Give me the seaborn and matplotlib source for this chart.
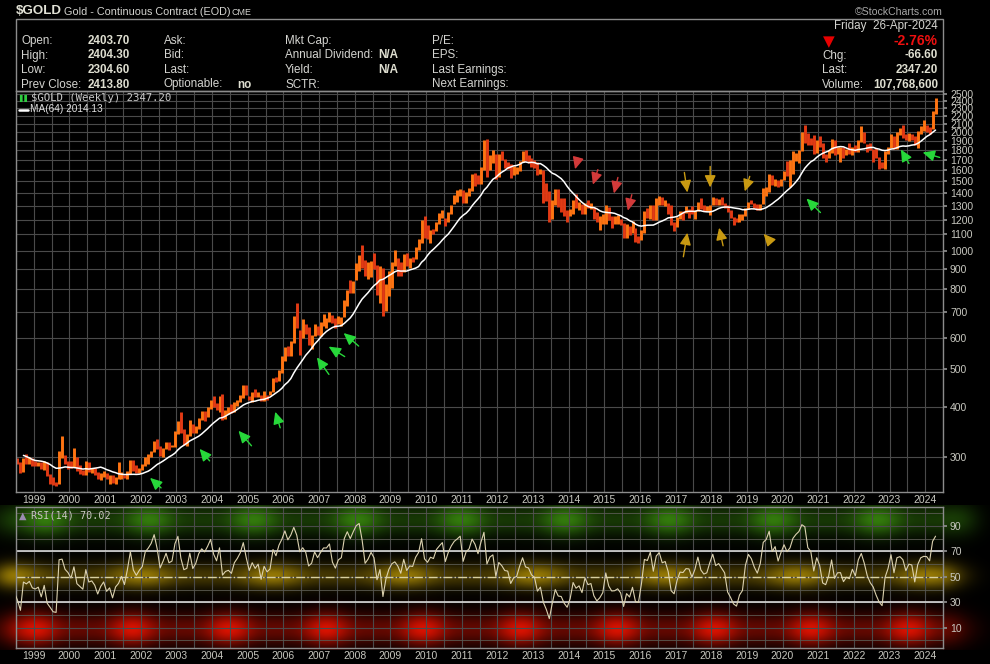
import numpy as np
import pandas as pd
import matplotlib
matplotlib.use("Agg")
import matplotlib.pyplot as plt
from matplotlib.lines import Line2D
from matplotlib.patches import Rectangle
from matplotlib.ticker import FixedLocator, NullFormatter, NullLocator
import seaborn as sns

W, H = 990, 664

# monthly gold bars (first month = Jul 1997)
START = 1997.5
close_px = [
    326, 325, 332, 311, 296, 290,
    303, 297, 301, 309, 293, 296, 288, 273, 294, 292, 294, 288,
    287, 288, 280, 286, 268, 262, 255, 254, 299, 300, 291, 288,
    283, 294, 278, 275, 272, 289, 277, 278, 274, 265, 270, 273,
    265, 267, 258, 264, 266, 270, 265, 274, 291, 279, 275, 279,
    282, 297, 302, 309, 327, 319, 305, 313, 324, 317, 319, 347,
    368, 348, 335, 337, 364, 346, 355, 375, 387, 384, 397, 417,
    403, 396, 425, 387, 394, 396, 392, 409, 417, 428, 454, 438,
    422, 436, 429, 436, 417, 437, 430, 434, 473, 466, 495, 519,
    569, 557, 585, 657, 644, 614, 633, 625, 599, 607, 645, 635,
    652, 669, 669, 683, 659, 650, 668, 673, 743, 794, 783, 838,
    924, 973, 934, 864, 888, 930, 914, 833, 880, 718, 815, 884,
    928, 943, 924, 891, 979, 927, 955, 953, 1007, 1040, 1181, 1096,
    1080, 1118, 1113, 1181, 1214, 1245, 1181, 1248, 1307, 1357, 1386, 1421,
    1333, 1411, 1439, 1556, 1536, 1500, 1628, 1825, 1620, 1715, 1746, 1566,
    1740, 1711, 1669, 1664, 1560, 1604, 1614, 1692, 1772, 1719, 1713, 1676,
    1663, 1578, 1596, 1476, 1393, 1234, 1313, 1396, 1328, 1323, 1250, 1202,
    1240, 1326, 1284, 1296, 1250, 1322, 1282, 1287, 1210, 1171, 1182, 1199,
    1278, 1212, 1183, 1184, 1190, 1172, 1095, 1132, 1114, 1142, 1065, 1060,
    1116, 1238, 1234, 1290, 1215, 1322, 1351, 1309, 1317, 1277, 1173, 1152,
    1211, 1253, 1251, 1269, 1268, 1242, 1269, 1322, 1284, 1271, 1275, 1309,
    1345, 1318, 1325, 1315, 1305, 1253, 1233, 1206, 1196, 1215, 1223, 1283,
    1325, 1316, 1298, 1285, 1311, 1414, 1437, 1529, 1472, 1511, 1464, 1523,
    1589, 1566, 1596, 1694, 1751, 1800, 1986, 1978, 1895, 1879, 1781, 1895,
    1850, 1729, 1715, 1769, 1903, 1771, 1817, 1818, 1757, 1784, 1776, 1829,
    1797, 1900, 1954, 1911, 1848, 1807, 1781, 1726, 1672, 1640, 1768, 1826,
    1945, 1836, 1986, 1999, 1982, 1919, 1970, 1966, 1870, 1995, 2058, 2072,
    2071, 2054, 2254, 2347,
]
high_px = [
    334, 331, 341, 334, 313, 300,
    307, 304, 304, 315, 310, 300, 297, 290, 297, 305, 300, 298,
    292, 291, 291, 292, 290, 271, 266, 258, 310, 338, 303, 292,
    292, 316, 300, 286, 278, 293, 291, 280, 280, 275, 272, 276,
    272, 269, 269, 266, 290, 275, 270, 276, 295, 294, 285, 280,
    288, 300, 305, 311, 328, 332, 320, 316, 327, 326, 322, 349,
    370, 389, 353, 342, 372, 364, 358, 376, 391, 392, 402, 418,
    427, 410, 428, 432, 395, 400, 407, 414, 419, 429, 457, 456,
    428, 437, 446, 437, 429, 441, 431, 440, 475, 478, 498, 541,
    571, 573, 590, 684, 735, 630, 671, 650, 640, 612, 650, 645,
    660, 690, 674, 697, 685, 675, 682, 678, 752, 797, 842, 840,
    932, 978, 1033, 948, 935, 941, 988, 920, 913, 906, 825, 888,
    938, 1007, 960, 935, 982, 989, 958, 962, 1023, 1070, 1196, 1227,
    1162, 1127, 1135, 1183, 1249, 1266, 1208, 1252, 1309, 1388, 1424, 1432,
    1424, 1413, 1447, 1569, 1577, 1560, 1630, 1911, 1923, 1750, 1803, 1763,
    1761, 1792, 1715, 1677, 1665, 1642, 1628, 1693, 1790, 1798, 1755, 1723,
    1697, 1683, 1617, 1605, 1487, 1417, 1347, 1433, 1434, 1361, 1361, 1267,
    1280, 1345, 1392, 1331, 1315, 1326, 1345, 1325, 1288, 1255, 1225, 1238,
    1307, 1290, 1223, 1224, 1232, 1205, 1175, 1170, 1157, 1191, 1145, 1088,
    1129, 1263, 1287, 1306, 1305, 1362, 1377, 1367, 1345, 1320, 1306, 1182,
    1220, 1264, 1261, 1297, 1278, 1297, 1272, 1331, 1362, 1306, 1299, 1310,
    1366, 1362, 1356, 1369, 1326, 1309, 1266, 1218, 1214, 1243, 1238, 1285,
    1331, 1349, 1325, 1311, 1314, 1443, 1452, 1565, 1557, 1519, 1515, 1525,
    1592, 1691, 1704, 1788, 1775, 1807, 2005, 2089, 1992, 1933, 1966, 1906,
    1959, 1877, 1756, 1800, 1919, 1916, 1837, 1834, 1837, 1814, 1878, 1834,
    1854, 1915, 2078, 2003, 1871, 1879, 1812, 1822, 1735, 1683, 1790, 1836,
    1975, 1952, 2005, 2049, 2085, 1985, 1987, 1974, 1953, 2017, 2075, 2152,
    2088, 2065, 2260, 2448,
]
low_px = [
    317, 318, 321, 307, 292, 283,
    283, 293, 292, 298, 292, 286, 287, 272, 274, 288, 288, 284,
    284, 284, 279, 277, 268, 256, 254, 252, 255, 297, 288, 279,
    281, 282, 276, 271, 270, 270, 275, 272, 269, 264, 262, 266,
    263, 255, 257, 256, 264, 263, 265, 264, 271, 276, 272, 272,
    277, 284, 288, 300, 309, 314, 302, 300, 313, 312, 317, 318,
    343, 344, 322, 320, 338, 344, 344, 352, 371, 370, 379, 396,
    400, 395, 390, 371, 375, 384, 388, 390, 403, 413, 422, 431,
    418, 414, 426, 424, 415, 415, 419, 430, 438, 463, 468, 490,
    525, 542, 540, 584, 637, 543, 602, 615, 575, 564, 607, 612,
    608, 643, 638, 660, 655, 638, 650, 645, 678, 724, 782, 781,
    845, 887, 906, 865, 850, 857, 901, 772, 736, 682, 702, 767,
    803, 914, 865, 865, 881, 913, 905, 937, 953, 1003, 1047, 1075,
    1072, 1045, 1100, 1123, 1166, 1212, 1157, 1182, 1243, 1315, 1331, 1374,
    1319, 1325, 1381, 1420, 1462, 1478, 1480, 1603, 1535, 1603, 1668, 1523,
    1540, 1704, 1627, 1613, 1527, 1555, 1568, 1597, 1684, 1692, 1674, 1636,
    1626, 1555, 1565, 1321, 1338, 1180, 1207, 1304, 1292, 1251, 1227, 1181,
    1225, 1240, 1284, 1268, 1240, 1240, 1282, 1273, 1204, 1183, 1131, 1170,
    1167, 1197, 1143, 1170, 1170, 1162, 1077, 1080, 1098, 1110, 1052, 1046,
    1062, 1111, 1208, 1205, 1200, 1200, 1310, 1304, 1302, 1241, 1161, 1123,
    1146, 1207, 1195, 1244, 1214, 1237, 1204, 1262, 1276, 1261, 1264, 1236,
    1303, 1308, 1306, 1306, 1286, 1251, 1211, 1160, 1180, 1182, 1196, 1222,
    1279, 1311, 1285, 1267, 1270, 1314, 1381, 1410, 1468, 1460, 1451, 1459,
    1515, 1548, 1451, 1567, 1686, 1671, 1797, 1883, 1851, 1860, 1765, 1773,
    1829, 1717, 1677, 1723, 1766, 1750, 1765, 1677, 1721, 1746, 1759, 1753,
    1780, 1784, 1893, 1877, 1786, 1805, 1678, 1720, 1617, 1618, 1616, 1765,
    1824, 1809, 1810, 1973, 1937, 1911, 1903, 1913, 1859, 1823, 1981, 2011,
    2001, 1985, 2039, 2228,
]

# annotation arrows: tip (year, price) and tail offset in pixels
green_arrows = [
    (2002.26, 265, 11, -10), (2003.65, 314, 10, -12), (2004.74, 349, 13, -15),
    (2005.77, 390, 5, -16), (2006.94, 536, 12, -17), (2007.27, 571, 16, -10),
    (2007.69, 618, 15, -13), (2020.67, 1357, 14, -14), (2023.32, 1808, 8, -14),
    (2023.93, 1777, 17, -5),
]
red_arrows = [
    (2014.18, 1611, 3, 11), (2014.68, 1472, 5, 15),
    (2015.27, 1398, 4, 16), (2015.66, 1264, 4, 16),
]
gold_arrows = [
    (2017.33, 1406, -3, 20), (2017.97, 1448, 0, 21), (2018.94, 1415, 5, 15),
    (2017.33, 1111, -4, -24), (2018.22, 1144, 4, -18), (2019.47, 1104, 7, -8),
]

price_ticks = list(range(300, 2600, 100))
rsi_ticks = [10, 30, 50, 70, 90]
years = list(range(1999, 2025))

assert len(close_px) == len(high_px) == len(low_px)

df = pd.DataFrame({"close": close_px, "high": high_px, "low": low_px})
df["year"] = START + (np.arange(len(df)) + 0.5) / 12
# 64 weeks ~ 15 months
df["ma"] = df["close"].rolling(15).mean()
delta = df["close"].diff()
gain = delta.clip(lower=0).ewm(alpha=1 / 7, adjust=False).mean()
loss = (-delta.clip(upper=0)).ewm(alpha=1 / 7, adjust=False).mean()
df["rsi"] = 100 - 100 / (1 + gain / loss)

sns.set_theme(style="dark")
plt.rcParams["font.family"] = ["Liberation Sans", "DejaVu Sans"]
plt.rcParams["axes.facecolor"] = "black"
plt.rcParams["figure.facecolor"] = "black"

TXT = "#d4d4d0"
VAL = "#deded0"
GRID = "#4a4a4a"
EDGE = "#8c8c8c"
HFS = 8.4
XMIN, XMAX = 1998.61, 2024.45


def fpos(x, y):
    return x / W, 1 - y / H


fig = plt.figure(figsize=(W / 100, H / 100), dpi=100)

# glowing RSI background
bg = fig.add_axes([0, 1 - 650 / H, 1, 145 / H])
bg.set_axis_off()
cols = np.arange(W)
vals = np.linspace(106, -7, 145)
X, V = np.meshgrid(cols, vals)
dist = np.maximum(np.maximum(16 - X, X - 943), 0)
fade = np.exp(-(dist / 26.0) ** 2)


def band(center, sigma, period, phase):
    prof = np.exp(-((V - center) / sigma) ** 2)
    mod = 0.45 + 0.55 * (0.5 + 0.5 * np.cos(2 * np.pi * (X - phase) / period)) ** 2
    return prof * mod


img = np.zeros((len(vals), W, 3))
for color, args in [
    ((0.20, 0.48, 0.05), (95, 13, 104, 45)),
    ((0.58, 0.47, 0.02), (51, 10, 131, 10)),
    ((0.85, 0.07, 0.0), (9, 13, 97, 35)),
]:
    img += np.array(color) * band(*args)[..., None]
img *= fade[..., None]
bg.imshow(np.clip(img, 0, 1), extent=(0, 1, 0, 1), aspect="auto",
          interpolation="bilinear")

ax = fig.add_axes([16 / W, 1 - 492 / H, 927 / W, 401 / H])
rsi_ax = fig.add_axes([16 / W, 1 - 648 / H, 927 / W, 141 / H])
rsi_ax.set_facecolor("none")

# price bars
up = df["close"].diff().fillna(0) >= 0
bar_colors = np.where(up, "#ff7412", "#e23a14")
ax.vlines(df["year"], df["low"], df["high"], colors=bar_colors,
          linewidth=2.1, zorder=2)
sns.lineplot(data=df.dropna(subset=["ma"]), x="year", y="ma", ax=ax,
             color="white", linewidth=1.1, zorder=3)

for arrows, color in [(green_arrows, "#27d83a"), (red_arrows, "#d23a3a"),
                      (gold_arrows, "#c99a12")]:
    for yr, price, dx, dy in arrows:
        ax.annotate("", xy=(yr, price), xytext=(dx, dy),
                    textcoords="offset pixels",
                    arrowprops=dict(arrowstyle="-|>,head_length=0.6,head_width=0.28",
                                    color=color, lw=1.0, shrinkA=0, shrinkB=0),
                    zorder=4)

ax.set_yscale("log")
ax.set_xlim(XMIN, XMAX)
ax.set_ylim(244, 2545)
ax.yaxis.tick_right()
ax.yaxis.set_major_locator(FixedLocator(price_ticks))
ax.set_yticklabels([str(v) for v in price_ticks])
ax.yaxis.set_minor_locator(NullLocator())
ax.yaxis.set_minor_formatter(NullFormatter())
ax.set_xticks(years)
ax.set_xticklabels([str(y) for y in years])
ax.set_xticks([y + 0.5 for y in range(1998, 2025)], minor=True)
ax.set_xlabel("")
ax.set_ylabel("")

# RSI panel
sns.lineplot(data=df, x="year", y="rsi", ax=rsi_ax, color="#dcd2b0",
             linewidth=0.8, zorder=3)
rsi_ax.axhline(70, color="#d8d8d8", lw=1.2, zorder=2)
rsi_ax.axhline(30, color="#d8d8d8", lw=1.2, zorder=2)
rsi_ax.axhline(50, color="#d8d0a0", lw=1.0, ls="-.", zorder=2)
rsi_ax.set_xlim(XMIN, XMAX)
rsi_ax.set_ylim(-6, 105)
rsi_ax.yaxis.tick_right()
rsi_ax.set_yticks(rsi_ticks)
rsi_ax.set_yticks(list(range(0, 101, 10)), minor=True)
rsi_ax.set_xticks(years)
rsi_ax.set_xticklabels([str(y) for y in years])
rsi_ax.set_xticks([y + 0.5 for y in range(1998, 2025)], minor=True)
rsi_ax.set_xlabel("")
rsi_ax.set_ylabel("")

for a in (ax, rsi_ax):
    a.grid(True, which="major", color=GRID, lw=0.8)
    a.grid(True, which="minor", axis="x", color=GRID, lw=0.8)
    a.set_axisbelow(True)
    a.tick_params(axis="x", which="both", length=0, pad=2, labelsize=7.5,
                  labelcolor="#c8c8c0")
    a.tick_params(axis="y", which="major", length=3, color=EDGE, pad=2,
                  labelsize=7.5, labelcolor="#c8c8c0")
    a.tick_params(axis="y", which="minor", length=0)
    for s in a.spines.values():
        s.set_visible(True)
        s.set_color(EDGE)
        s.set_linewidth(1.0)
rsi_ax.grid(True, which="minor", axis="y", color="#5a5a52", lw=0.6)

# legends inside panels
fig.text(*fpos(19, 98), "\u258c\u258c", color="#2ecc40", fontsize=5,
         va="center", family="DejaVu Sans")
fig.text(*fpos(31, 98), "$GOLD (Weekly) 2347.20", color="#c8c8c8",
         fontsize=7.7, va="center", family="DejaVu Sans Mono")
fig.add_artist(Line2D([19 / W, 28 / W], [1 - 109.5 / H] * 2, color="white",
                      lw=1.8, transform=fig.transFigure))
fig.text(*fpos(30, 109.5), "MA(64) 2014.13", color="#e0e0e0", fontsize=7.3,
         va="center")
fig.text(*fpos(19, 515.5), "\u25b2", color="#9a8cb0", fontsize=7,
         va="center", family="DejaVu Sans")
fig.text(*fpos(31, 515.5), "RSI(14) 70.02", color="#c8c8c0", fontsize=7.3,
         va="center", family="DejaVu Sans Mono")

# header
fig.text(*fpos(16, 11), "$GOLD", color="#e2e2d6", fontsize=9.6,
         fontweight="bold", va="center")
fig.text(*fpos(64, 12), "Gold - Continuous Contract (EOD)", color=TXT,
         fontsize=7.8, va="center")
fig.text(*fpos(231, 12.5), "CME", color=TXT, fontsize=6.4, va="center")
fig.text(*fpos(943, 12), "\u00a9StockCharts.com", color="#a8a8a8",
         fontsize=7.6, va="center", ha="right")
fig.add_artist(Rectangle((16 / W, 1 - 91 / H), 927 / W, 72 / H, fill=False,
                         edgecolor=EDGE, lw=1.0, transform=fig.transFigure))

rows = [41, 55.5, 70, 84.5]
hdr_labels = ["Open:", "High:", "Low:", "Prev Close:"]
hdr_values = ["2403.70", "2404.30", "2304.60", "2413.80"]
col2 = ["Ask:", "Bid:", "Last:", "Optionable:"]
col3 = ["Mkt Cap:", "Annual Dividend:", "Yield:", "SCTR:"]
col4 = ["P/E:", "EPS:", "Last Earnings:", "Next Earnings:"]
for y, lab, v, c2, c3, c4 in zip(rows, hdr_labels, hdr_values, col2, col3, col4):
    fig.text(*fpos(21, y), lab, color=TXT, fontsize=HFS, va="center")
    fig.text(*fpos(130, y), v, color=VAL, fontsize=HFS, va="center",
             ha="right", fontweight="bold")
    fig.text(*fpos(164, y), c2, color=TXT, fontsize=HFS, va="center")
    fig.text(*fpos(285, y), c3, color=TXT, fontsize=HFS, va="center")
    fig.text(*fpos(432, y), c4, color=TXT, fontsize=HFS, va="center")
fig.text(*fpos(237, rows[3]), "no", color=VAL, fontsize=HFS, va="center",
         fontweight="bold")
for y in rows[1:3]:
    fig.text(*fpos(398, y), "N/A", color=VAL, fontsize=HFS, va="center",
             ha="right", fontweight="bold")

fig.text(*fpos(938, 26), "Friday  26-Apr-2024", color=TXT, fontsize=HFS,
         va="center", ha="right")
fig.text(*fpos(823, 42), "\u25bc", color="#e80000", fontsize=11,
         va="center", family="DejaVu Sans")
fig.text(*fpos(938, 41), "-2.76%", color="#ee1010", fontsize=10,
         va="center", ha="right", fontweight="bold")
for y, lab, v in zip(rows[1:], ["Chg:", "Last:", "Volume:"],
                     ["-66.60", "2347.20", "107,768,600"]):
    fig.text(*fpos(822, y), lab, color=TXT, fontsize=HFS, va="center")
    fig.text(*fpos(938, y), v, color=VAL, fontsize=HFS, va="center",
             ha="right", fontweight="bold")

fig.savefig("out.png", dpi=100, facecolor="black")
plt.close(fig)
